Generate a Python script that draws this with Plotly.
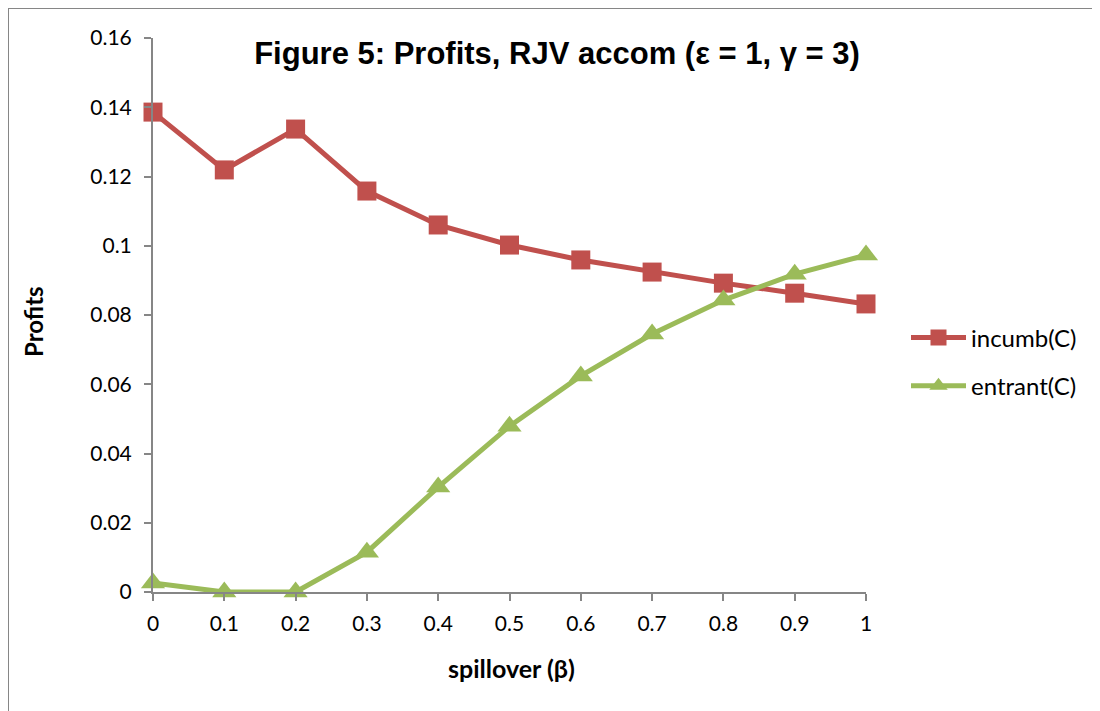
import plotly.graph_objects as go

beta = [0, 0.1, 0.2, 0.3, 0.4, 0.5, 0.6, 0.7, 0.8, 0.9, 1.0]
incumb = [0.1386, 0.1219, 0.1337, 0.1158, 0.1060, 0.1002, 0.0959, 0.0924, 0.0892, 0.0863, 0.0832]
entrant = [0.0026, 0.0, 0.0, 0.0115, 0.0303, 0.0479, 0.0624, 0.0745, 0.0843, 0.0918, 0.0973]
xticks = ["0", "0.1", "0.2", "0.3", "0.4", "0.5", "0.6", "0.7", "0.8", "0.9", "1"]
yticks = [0, 0.02, 0.04, 0.06, 0.08, 0.1, 0.12, 0.14, 0.16]
ylabels = ["0", "0.02", "0.04", "0.06", "0.08", "0.1", "0.12", "0.14", "0.16"]

RED = "#C0504D"
GREEN = "#9BBB59"
AXIS = "#868686"
FAM = "Lato, Open Sans, sans-serif"
TICKFONT = dict(family=FAM, size=21, color="#000000")

fig = go.Figure()
fig.add_trace(go.Scatter(x=beta, y=incumb, name="incumb(C)", mode="lines+markers",
                         legendgroup="a",
                         line=dict(color=RED, width=5),
                         marker=dict(symbol="square", size=19, color=RED),
                         cliponaxis=False))
fig.add_trace(go.Scatter(x=beta, y=entrant, name="entrant(C)", mode="lines+markers",
                         legendgroup="b",
                         line=dict(color=GREEN, width=5),
                         marker=dict(symbol="triangle-up", size=21, color=GREEN),
                         cliponaxis=False))

W, H = 1100, 711
OFF = 8  # page body offset
L, T = 153 - OFF, 38 - OFF
pw, ph = 713, 554
R, B = W - L - pw, H - T - ph


def px2x(s):
    return (s - 153) / pw


def py2y(s):
    return (592 - s) / ph


fig.update_layout(
    width=W, height=H,
    margin=dict(l=L, r=R, t=T, b=B),
    paper_bgcolor="white", plot_bgcolor="white",
    title=dict(text="<b>Figure 5: Profits, RJV accom (ε = 1, γ = 3)</b>",
               font=dict(family="Liberation Sans, Arial, sans-serif", size=31, color="#000000"),
               x=(557 - OFF) / W, xanchor="center", y=1 - (53 - OFF) / H, yanchor="middle"),
    xaxis=dict(range=[0, 1], tickmode="array", tickvals=beta, ticktext=xticks,
               showgrid=False, zeroline=False, showline=True, linecolor=AXIS, linewidth=2,
               ticks="outside", ticklen=7, tickcolor=AXIS, tickwidth=1.5,
               tickfont=TICKFONT, ticklabelstandoff=5),
    yaxis=dict(range=[0, 0.16], tickmode="array", tickvals=yticks, ticktext=ylabels,
               showgrid=False, zeroline=False, showline=True, linecolor=AXIS, linewidth=2,
               ticks="outside", ticklen=7, tickcolor=AXIS, tickwidth=1.5,
               tickfont=TICKFONT, ticklabelstandoff=8),
    legend=dict(x=px2x(906), xanchor="left", y=py2y(362), yanchor="middle",
                font=dict(family=FAM, size=24, color="#000000"),
                itemwidth=55, tracegroupgap=14, bgcolor="rgba(0,0,0,0)"),
    showlegend=True,
)

fig.add_annotation(text="<b>spillover (β)</b>", xref="paper", yref="paper",
                   x=px2x(511), y=py2y(668), xanchor="center", yanchor="middle",
                   showarrow=False, font=dict(family=FAM, size=25, color="#000000"))
fig.add_annotation(text="<b>Profits</b>", xref="paper", yref="paper",
                   x=px2x(33), y=py2y(322), xanchor="center", yanchor="middle",
                   textangle=-90, showarrow=False, font=dict(family=FAM, size=24, color="#000000"))

# outer chart frame
fig.add_shape(type="line", xref="paper", yref="paper",
              x0=px2x(8), x1=px2x(1120), y0=py2y(8), y1=py2y(8),
              line=dict(color=AXIS, width=2))
fig.add_shape(type="line", xref="paper", yref="paper",
              x0=px2x(8), x1=px2x(8), y0=py2y(8), y1=py2y(730),
              line=dict(color=AXIS, width=2))

fig.write_html("out.html")
